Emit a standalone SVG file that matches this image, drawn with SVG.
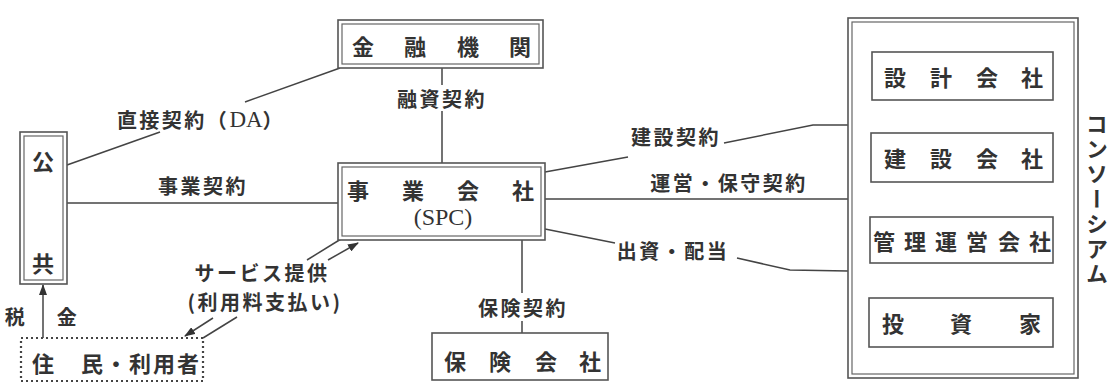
<svg xmlns="http://www.w3.org/2000/svg" width="1113" height="383" viewBox="0 0 1113 383">
<style>
.jp{font-family:"Noto Sans CJK JP","Noto Sans CJK SC",sans-serif;font-weight:700;fill:#333;dominant-baseline:central;text-anchor:middle}
.n{font-size:22px}
.l{font-size:20px;letter-spacing:2.5px}
.lat{font-family:"Liberation Serif",serif;font-weight:400}
.o{fill:#fff;stroke:#555;stroke-width:1.6}
.i{fill:none;stroke:#666;stroke-width:1.2}
.c{fill:none;stroke:#444;stroke-width:1.5}
</style>
<defs>
<marker id="ah" markerUnits="userSpaceOnUse" markerWidth="11" markerHeight="8" refX="10" refY="4" orient="auto">
<path d="M0,0 L11,4 L0,8 z" fill="#333"/>
</marker>
</defs>
<rect width="1113" height="383" fill="#fff"/>

<g id="connectors">
<polyline class="c" points="340,68 245,102"/>
<polyline class="c" points="160,132 67,165"/>
<line class="c" x1="67" y1="203" x2="338" y2="203"/>
<line class="c" x1="442" y1="68" x2="442" y2="85"/>
<line class="c" x1="442" y1="111" x2="442" y2="163"/>
<line class="c" x1="522" y1="240" x2="522" y2="293"/>
<line class="c" x1="522" y1="321" x2="522" y2="333"/>
<polyline class="c" points="545,172 628,157"/>
<polyline class="c" points="724,143 813,125 848,125"/>
<line class="c" x1="545" y1="199" x2="848" y2="199"/>
<polyline class="c" points="545,229 615,243"/>
<polyline class="c" points="737,258 790,270 848,271"/>
<line class="c" x1="307" y1="260" x2="341" y2="239"/>
<line class="c" x1="328" y1="260" x2="358" y2="243" marker-end="url(#ah)"/>
<line class="c" x1="213" y1="318" x2="185" y2="336" marker-end="url(#ah)"/>
<line class="c" x1="237" y1="317" x2="203" y2="338"/>
<line class="c" x1="43" y1="338" x2="43" y2="285" marker-end="url(#ah)"/>
<text class="jp l" x="201" y="119">直接契約（<tspan class="lat" style="font-size:23px;letter-spacing:0">DA</tspan>）</text>
<text class="jp l" x="203" y="185">事業契約</text>
<text class="jp l" x="442" y="98">融資契約</text>
<text class="jp l" x="523" y="307">保険契約</text>
<text class="jp l" x="676" y="136">建設契約</text>
<text class="jp l" x="729" y="182">運営・保守契約</text>
<text class="jp l" x="673" y="250">出資・配当</text>
<text class="jp l" x="262" y="272">サービス提供</text>
<text class="jp l" x="265" y="301">(利用料支払い)</text>
<text class="jp l" x="16" y="316">税</text>
<text class="jp l" x="68" y="316">金</text>
</g>

<g id="public">
<rect class="o" x="20" y="132" width="47" height="152"/>
<rect class="i" x="24" y="136" width="39" height="144"/>
<text class="jp n" x="43" y="160">公</text>
<text class="jp n" x="43" y="262">共</text>
</g>

<g id="finance">
<rect class="o" x="338" y="20" width="205" height="48"/>
<rect class="i" x="342" y="24" width="197" height="40"/>
<text class="jp n" x="363 415 468 520" y="45">金融機関</text>
</g>

<g id="spc">
<rect class="o" x="338" y="163" width="207" height="77"/>
<rect class="i" x="342" y="167" width="199" height="69"/>
<text class="jp n" x="358 413 468 523" y="189">事業会社</text>
<text class="jp" x="443" y="217" style="font-family:'Liberation Serif',serif;font-weight:400;font-size:24px">(SPC)</text>
</g>

<g id="insurance">
<rect class="o" x="432" y="333" width="176" height="47"/>
<text class="jp n" x="455 500 546 590" y="360">保険会社</text>
</g>

<g id="residents">
<rect x="21" y="338" width="182" height="43" fill="#fff" stroke="#444" stroke-width="2.2" stroke-dasharray="2,3"/>
<text class="jp n" x="43 92 116 140 164 188" y="362">住民・利用者</text>
</g>

<g id="consortium">
<rect class="o" x="848" y="18" width="230" height="360"/>
<rect class="i" x="852" y="22" width="222" height="352"/>
<text class="jp" x="1097" y="200" style="font-size:22px;writing-mode:vertical-rl;letter-spacing:3px">コンソーシアム</text>
</g>

<g id="design">
<rect class="o" x="872" y="52" width="181" height="48"/>
<text class="jp n" x="895 941 987 1032" y="76">設計会社</text>
</g>

<g id="construction">
<rect class="o" x="871" y="133" width="182" height="49"/>
<text class="jp n" x="895 941 987 1032" y="157">建設会社</text>
</g>

<g id="management">
<rect class="o" x="870" y="217" width="183" height="46"/>
<text class="jp n" x="884 915 946 977 1009 1040" y="240">管理運営会社</text>
</g>

<g id="investor">
<rect class="o" x="869" y="298" width="184" height="49"/>
<text class="jp n" x="893 961 1030" y="322">投資家</text>
</g>
</svg>
